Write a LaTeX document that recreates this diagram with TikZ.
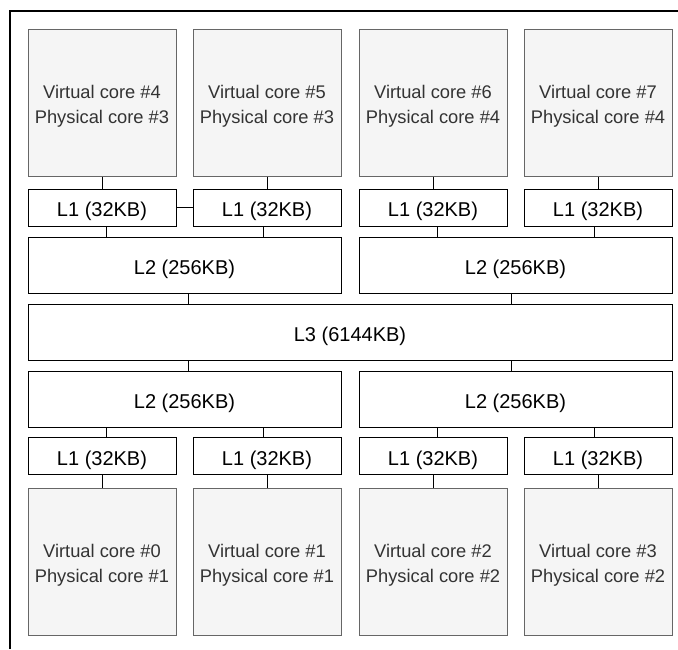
\documentclass[tikz,border=0pt]{standalone}
\usepackage{fontspec}
\setmainfont{Liberation Sans}
\usetikzlibrary{calc}
\definecolor{corefill}{HTML}{F5F5F5}
\definecolor{coreline}{HTML}{666666}
\definecolor{coretext}{HTML}{333333}
\tikzset{
  core/.style={draw=coreline, fill=corefill, text=coretext, line width=1pt,
    minimum width=148pt, minimum height=147pt, inner sep=0pt, align=center,
    text height=45pt, text depth=3.8pt,
    font=\fontsize{18.3}{25}\selectfont},
  cache/.style={draw=black, fill=white, line width=1pt, inner sep=0pt,
    text height=22.6pt, text depth=4.1pt,
    font=\fontsize{20}{23}\selectfont},
  lone/.style={cache, minimum width=148pt, minimum height=37pt},
  ltwo/.style={cache, minimum width=313pt, minimum height=56pt},
  lthree/.style={cache, minimum width=644pt, minimum height=56pt},
  wire/.style={draw=black, line width=1pt},
  frame/.style={draw=black, line width=1.3pt}
}
\begin{document}
\begin{tikzpicture}[x=1pt,y=-1pt]
\useasboundingbox (0,0) rectangle (678,649);

% outer frame (open on the right and bottom)
\coordinate (fbl) at (10,649);
\coordinate (ftl) at (10,11);
\coordinate (ftr) at (678,11);
\draw[frame] (fbl) -- (ftl) -- (ftr);

% upper cores
\node[core] (c4) at (102,102.5) {Virtual core \#4\\Physical core \#3};
\node[core] (c5) at (267,102.5) {Virtual core \#5\\Physical core \#3};
\node[core] (c6) at (433,102.5) {Virtual core \#6\\Physical core \#4};
\node[core] (c7) at (598,102.5) {Virtual core \#7\\Physical core \#4};

% upper L1 caches
\node[lone] (u1a) at (102,207.5) {L1 (32KB)};
\node[lone] (u1b) at (267,207.5) {L1 (32KB)};
\node[lone] (u1c) at (433,207.5) {L1 (32KB)};
\node[lone] (u1d) at (598,207.5) {L1 (32KB)};

% upper L2 caches
\node[ltwo] (u2a) at (184.5,265) {L2 (256KB)};
\node[ltwo] (u2b) at (515.5,265) {L2 (256KB)};

% shared L3
\node[lthree] (l3) at (350,332) {L3 (6144KB)};

% lower L2 caches
\node[ltwo] (d2a) at (184.5,399) {L2 (256KB)};
\node[ltwo] (d2b) at (515.5,399) {L2 (256KB)};

% lower L1 caches
\node[lone] (d1a) at (102,456) {L1 (32KB)};
\node[lone] (d1b) at (267,456) {L1 (32KB)};
\node[lone] (d1c) at (433,456) {L1 (32KB)};
\node[lone] (d1d) at (598,456) {L1 (32KB)};

% lower cores
\node[core] (c0) at (102,561.5) {Virtual core \#0\\Physical core \#1};
\node[core] (c1) at (267,561.5) {Virtual core \#1\\Physical core \#1};
\node[core] (c2) at (433,561.5) {Virtual core \#2\\Physical core \#2};
\node[core] (c3) at (598,561.5) {Virtual core \#3\\Physical core \#2};

% attachment points on the wide caches
\coordinate (u2a1) at ($(u2a.north west)!0.25!(u2a.north east)$);
\coordinate (u2a2) at ($(u2a.north west)!0.75!(u2a.north east)$);
\coordinate (u2b1) at ($(u2b.north west)!0.25!(u2b.north east)$);
\coordinate (u2b2) at ($(u2b.north west)!0.75!(u2b.north east)$);
\coordinate (l3t1) at ($(l3.north west)!0.25!(l3.north east)$);
\coordinate (l3t2) at ($(l3.north west)!0.75!(l3.north east)$);
\coordinate (l3b1) at ($(l3.south west)!0.25!(l3.south east)$);
\coordinate (l3b2) at ($(l3.south west)!0.75!(l3.south east)$);
\coordinate (d2a1) at ($(d2a.south west)!0.25!(d2a.south east)$);
\coordinate (d2a2) at ($(d2a.south west)!0.75!(d2a.south east)$);
\coordinate (d2b1) at ($(d2b.south west)!0.25!(d2b.south east)$);
\coordinate (d2b2) at ($(d2b.south west)!0.75!(d2b.south east)$);

% cores to L1
\foreach \c/\l in {c4/u1a, c5/u1b, c6/u1c, c7/u1d, d1a/c0, d1b/c1, d1c/c2, d1d/c3}
  \draw[wire] (\c.south) -- (\l.north);

% link between the two L1 caches of physical core #3
\draw[wire] (u1a.east) -- (u1b.west);

% L1 to L2 (upper)
\draw[wire] (u2a1) -- (u2a1 |- u1a.south);
\draw[wire] (u2a2) -- (u2a2 |- u1b.south);
\draw[wire] (u2b1) -- (u2b1 |- u1c.south);
\draw[wire] (u2b2) -- (u2b2 |- u1d.south);

% L2 to L3
\draw[wire] (l3t1) -- (l3t1 |- u2a.south);
\draw[wire] (l3t2) -- (l3t2 |- u2b.south);
\draw[wire] (l3b1) -- (l3b1 |- d2a.north);
\draw[wire] (l3b2) -- (l3b2 |- d2b.north);

% L2 to L1 (lower)
\draw[wire] (d2a1) -- (d2a1 |- d1a.north);
\draw[wire] (d2a2) -- (d2a2 |- d1b.north);
\draw[wire] (d2b1) -- (d2b1 |- d1c.north);
\draw[wire] (d2b2) -- (d2b2 |- d1d.north);
\end{tikzpicture}
\end{document}
